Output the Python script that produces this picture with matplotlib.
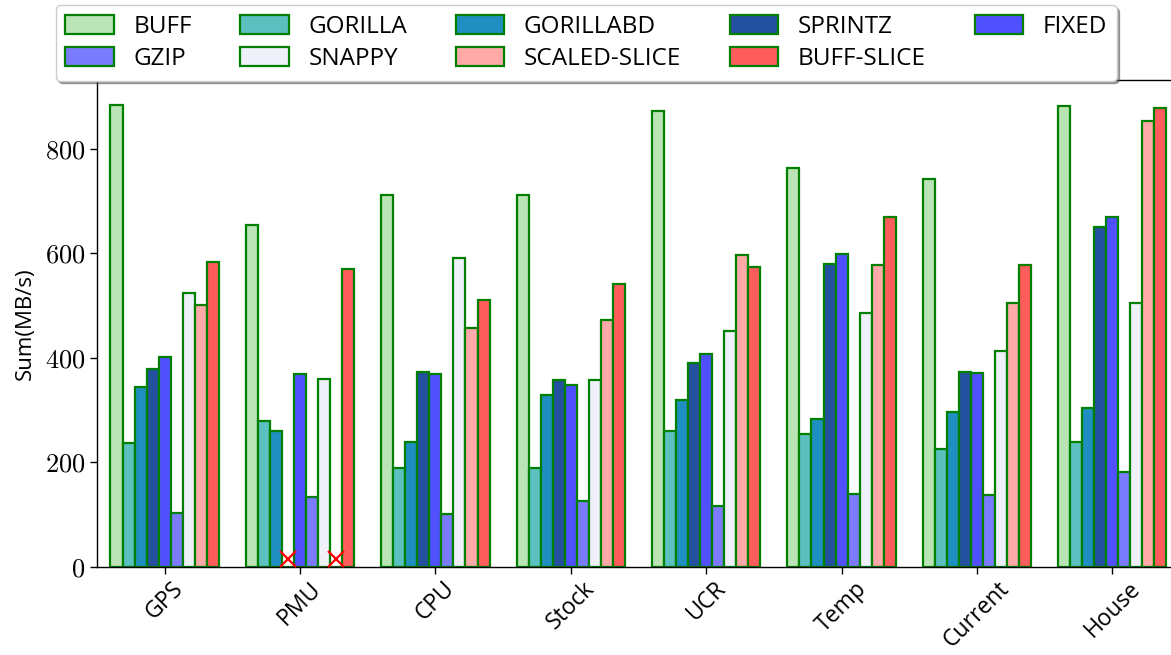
import numpy as np
import matplotlib
matplotlib.use("Agg")
import matplotlib.pyplot as plt
from matplotlib.ticker import FuncFormatter

categories = ["GPS", "PMU", "CPU", "Stock", "UCR", "Temp", "Current", "House"]
series_names = ["BUFF", "GORILLA", "GORILLABD", "SPRINTZ", "FIXED",
                "GZIP", "SNAPPY", "SCALED-SLICE", "BUFF-SLICE"]

buff = [884, 654, 712, 712, 873, 763, 742, 882]
gorilla = [238, 280, 189, 189, 261, 254, 225, 239]
gorillabd = [344, 260, 239, 329, 320, 283, 296, 304]
sprintz = [378, None, 374, 357, 390, 579, 374, 650]
fixed = [402, 369, 369, 348, 408, 598, 372, 669]
gzip = [103, 133, 101, 127, 117, 140, 138, 181]
snappy = [524, 360, 592, 358, 452, 486, 414, 505]
scaled_slice = [501, None, 457, 473, 597, 578, 505, 854]
buff_slice = [584, 570, 511, 542, 575, 669, 577, 878]

series_values = [buff, gorilla, gorillabd, sprintz, fixed,
                 gzip, snappy, scaled_slice, buff_slice]
colors = ["#bae4b6", "#5cc0c1", "#1e8fc0", "#23509f", "#5050ff",
          "#7b7bff", "#f0f0fa", "#ffa9a9", "#ff5c5c"]
legend_order = ["BUFF", "GZIP", "GORILLA", "SNAPPY", "GORILLABD",
                "SCALED-SLICE", "SPRINTZ", "BUFF-SLICE", "FIXED"]
yticks = [0, 200, 400, 600, 800]
missing_marker_value = 15

SANS = ["Open Sans", "DejaVu Sans"]
plt.rcParams["mathtext.fontset"] = "cm"
plt.rcParams["font.family"] = SANS

fig = plt.figure(figsize=(11.71, 6.55), dpi=100)
ax = fig.add_axes([0.0828, 0.1344, 0.9249, 0.7435])

n = len(series_names)
width = 0.8 / n
x = np.arange(len(categories))
handles = {}
for i, (name, vals, c) in enumerate(zip(series_names, series_values, colors)):
    pos = x + (i - (n - 1) / 2) * width
    v = np.array([np.nan if a is None else a for a in vals], dtype=float)
    b = ax.bar(pos, np.nan_to_num(v), width, color=c, edgecolor="green",
               linewidth=1.6, label=name)
    handles[name] = b
    miss = np.isnan(v)
    if miss.any():
        ax.plot(pos[miss], np.full(miss.sum(), missing_marker_value), "x",
                color="red", markersize=11, markeredgewidth=1.6, zorder=5)

ax.set_xlim(-0.5, len(categories) - 0.5)
ax.set_ylim(0, 932)
ax.set_yticks(yticks)
ax.yaxis.set_major_formatter(FuncFormatter(lambda v, p: f"${int(v)}$"))
ax.tick_params(axis="y", labelsize=19, length=5, width=1)
ax.set_xticks(x)
ax.set_xticklabels(categories, rotation=45, fontsize=16.5, family=SANS)
ax.tick_params(axis="x", length=5, width=1, pad=2)
ax.set_ylabel("Sum(MB/s)", fontsize=16, family=SANS, labelpad=6)
for s in ax.spines.values():
    s.set_linewidth(1.0)

leg = fig.legend([handles[k] for k in legend_order], legend_order,
                 loc="upper center", bbox_to_anchor=(0.5005, 0.992), ncol=5,
                 shadow=True, fancybox=True, fontsize=17.5, handlelength=2.0,
                 handleheight=0.8, handletextpad=0.8, columnspacing=2.0,
                 labelspacing=0.33, borderpad=0.4, borderaxespad=0,
                 framealpha=1)
leg.set_zorder(10)

fig.savefig("out.png", dpi=100)
